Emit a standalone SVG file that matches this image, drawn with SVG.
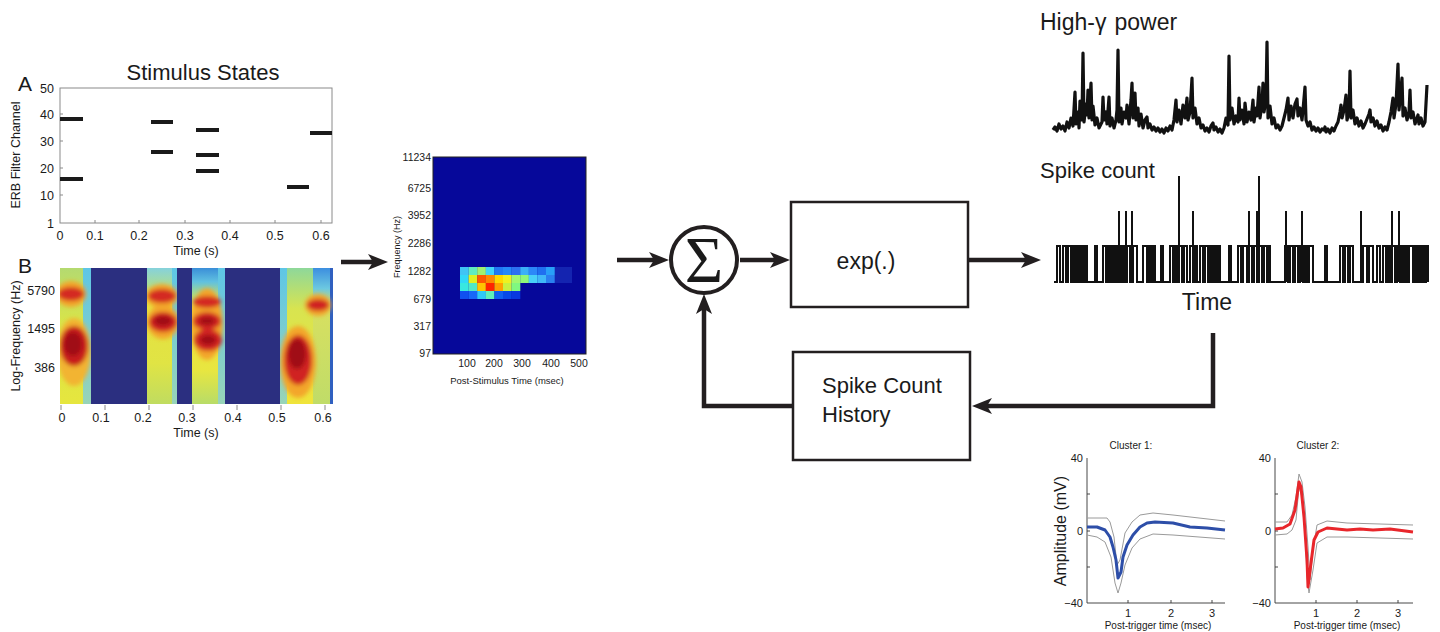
<svg xmlns="http://www.w3.org/2000/svg" width="1440" height="632" viewBox="0 0 1440 632">
<style>
text{font-family:"Liberation Sans",Arial,sans-serif;fill:#1a1a1a}
.ax{fill:none;stroke:#8a8a8a;stroke-width:1}
.axk{fill:none;stroke:#333;stroke-width:0.9}
.tk{font-size:12.5px}
.sm{font-size:10px}
.stim{stroke:#1a1a1a;stroke-width:4}
.conn{fill:none;stroke:#231f20;stroke-width:4.5}
.box{fill:#fff;stroke:#231f20;stroke-width:2.5}
.gray{fill:none;stroke:#9a9a9a;stroke-width:1}
</style>
<defs>
<marker id="ah" viewBox="0 0 20 16" refX="6" refY="8" markerWidth="20" markerHeight="16" markerUnits="userSpaceOnUse" orient="auto">
<path d="M0,0 L20,8 L0,16 L5,8 z" fill="#231f20"/>
</marker>
<filter id="bl" x="-50%" y="-50%" width="200%" height="200%"><feGaussianBlur stdDeviation="2.2"/></filter>
<clipPath id="c1"><rect x="60" y="268" width="31" height="136"/></clipPath>
<clipPath id="c2"><rect x="147" y="268" width="30" height="136"/></clipPath>
<clipPath id="c3"><rect x="192" y="268" width="33" height="136"/></clipPath>
<clipPath id="c4"><rect x="280" y="268" width="53" height="136"/></clipPath>
<linearGradient id="g1" x1="0" y1="0" x2="0" y2="1"><stop offset="0" stop-color="#b4da70"/><stop offset="0.4" stop-color="#d8e44a"/><stop offset="1" stop-color="#e6e63e"/></linearGradient>
<linearGradient id="gc" x1="0" y1="0" x2="0" y2="1"><stop offset="0" stop-color="#5ec6e6"/><stop offset="1" stop-color="#98d4b8"/></linearGradient>
<linearGradient id="g2" x1="0" y1="0" x2="0" y2="1"><stop offset="0" stop-color="#86d2dc"/><stop offset="0.12" stop-color="#a8dc9a"/><stop offset="0.22" stop-color="#e8e040"/><stop offset="0.7" stop-color="#e0e444"/><stop offset="1" stop-color="#c0dc60"/></linearGradient>
<linearGradient id="g3" x1="0" y1="0" x2="0" y2="1"><stop offset="0" stop-color="#3a8ed8"/><stop offset="0.1" stop-color="#60c0e0"/><stop offset="0.2" stop-color="#b0dc80"/><stop offset="0.3" stop-color="#f0e040"/><stop offset="0.75" stop-color="#e8e640"/><stop offset="1" stop-color="#b8dc68"/></linearGradient>
<linearGradient id="g4" x1="0" y1="0" x2="0" y2="1"><stop offset="0" stop-color="#8ed89a"/><stop offset="0.3" stop-color="#d8e450"/><stop offset="1" stop-color="#f0e43a"/></linearGradient>
<linearGradient id="g5" x1="0" y1="0" x2="0" y2="1"><stop offset="0" stop-color="#3c8ee0"/><stop offset="0.15" stop-color="#6cc8e0"/><stop offset="0.28" stop-color="#d8e060"/><stop offset="1" stop-color="#c0dc68"/></linearGradient>
</defs>
<rect width="1440" height="632" fill="#fff"/>

<g id="panelA">
<text x="203" y="80" text-anchor="middle" style="font-size:22px">Stimulus States</text>
<text x="18" y="91" style="font-size:21px">A</text>
<rect class="ax" x="60" y="88" width="272" height="135"/>
<path class="ax" d="M60,114h3M60,141h3M60,168h3M60,195h3M95,223v-3M139,223v-3M185,223v-3M230,223v-3M275,223v-3M321,223v-3"/>
<g class="tk" text-anchor="end">
<text x="54" y="93">50</text><text x="54" y="119">40</text><text x="54" y="146">30</text><text x="54" y="173">20</text><text x="54" y="200">10</text><text x="54" y="228">1</text>
</g>
<g class="tk" text-anchor="middle">
<text x="60" y="240">0</text><text x="95" y="240">0.1</text><text x="139" y="240">0.2</text><text x="185" y="240">0.3</text><text x="230" y="240">0.4</text><text x="275" y="240">0.5</text><text x="321" y="240">0.6</text>
</g>
<text x="196" y="255" text-anchor="middle" style="font-size:12.5px">Time (s)</text>
<text transform="translate(20,155) rotate(-90)" text-anchor="middle" style="font-size:12.5px">ERB Filter Channel</text>
<path class="stim" d="M60,119H83M60,179H83M151,122H173M151,152H173M196,130H219M196,155H219M196,171H219M287,187H309M310,133H332"/>
</g>

<g id="panelB">
<text x="18" y="273" style="font-size:21px">B</text>
<rect x="60" y="268" width="273" height="136" fill="#2b2f80"/>
<g clip-path="url(#c1)">
<rect x="60" y="268" width="23" height="136" fill="url(#g1)"/>
<rect x="83" y="268" width="8" height="136" fill="url(#gc)"/>
<g filter="url(#bl)">
<ellipse cx="71" cy="294" rx="15" ry="13" fill="#f3a62a"/>
<ellipse cx="71" cy="294" rx="13" ry="7" fill="#d42a20"/>
<ellipse cx="74" cy="352" rx="17" ry="34" fill="#f2b432"/>
<ellipse cx="74" cy="346" rx="14" ry="20" fill="#c81e1e"/>
<ellipse cx="73" cy="344" rx="9" ry="12" fill="#a01018"/>
</g>
</g>
<g clip-path="url(#c2)">
<rect x="147" y="268" width="25" height="136" fill="url(#g2)"/>
<rect x="172" y="268" width="5" height="136" fill="url(#gc)"/>
<g filter="url(#bl)">
<ellipse cx="162" cy="296" rx="16" ry="12" fill="#f3a62a"/>
<ellipse cx="162" cy="296" rx="14" ry="7" fill="#d42a20"/>
<ellipse cx="163" cy="322" rx="16" ry="17" fill="#f3a62a"/>
<ellipse cx="163" cy="322" rx="14" ry="10" fill="#d02420"/>
<ellipse cx="163" cy="321" rx="9" ry="5" fill="#a01018"/>
</g>
</g>
<g clip-path="url(#c3)">
<rect x="192" y="268" width="26" height="136" fill="url(#g3)"/>
<rect x="218" y="268" width="7" height="136" fill="url(#gc)"/>
<g filter="url(#bl)">
<ellipse cx="207" cy="324" rx="16" ry="36" fill="#f3a62a"/>
<ellipse cx="207" cy="302" rx="14" ry="6" fill="#d42a20"/>
<ellipse cx="207" cy="321" rx="14" ry="9" fill="#d02420"/>
<ellipse cx="208" cy="340" rx="14" ry="11" fill="#d02420"/>
<ellipse cx="207" cy="321" rx="8" ry="4" fill="#a01018"/>
<ellipse cx="208" cy="340" rx="8" ry="5" fill="#a01018"/>
</g>
</g>
<g clip-path="url(#c4)">
<rect x="280" y="268" width="7" height="136" fill="url(#gc)"/>
<rect x="287" y="268" width="26" height="136" fill="url(#g4)"/>
<rect x="313" y="268" width="17" height="136" fill="url(#g5)"/>
<rect x="330" y="268" width="3" height="136" fill="#3060c0"/>
<g filter="url(#bl)">
<ellipse cx="298" cy="362" rx="18" ry="36" fill="#f3a62a"/>
<ellipse cx="298" cy="360" rx="14" ry="25" fill="#d02420"/>
<ellipse cx="297" cy="354" rx="9" ry="15" fill="#a01018"/>
<ellipse cx="318" cy="305" rx="13" ry="11" fill="#f3a62a"/>
<ellipse cx="318" cy="305" rx="11" ry="6" fill="#d02420"/>
</g>
</g>
<path class="ax" d="M61,405v5M105,405v5M149,405v5M193,405v5M237,405v5M281,405v5M325,405v5"/>
<g class="tk" text-anchor="end">
<text x="55" y="295">5790</text><text x="55" y="333">1495</text><text x="55" y="372">386</text>
</g>
<g class="tk" text-anchor="middle">
<text x="62" y="422">0</text><text x="101" y="422">0.1</text><text x="143" y="422">0.2</text><text x="187" y="422">0.3</text><text x="233" y="422">0.4</text><text x="277" y="422">0.5</text><text x="323" y="422">0.6</text>
</g>
<text x="196" y="437" text-anchor="middle" style="font-size:12.5px">Time (s)</text>
<text transform="translate(20,336) rotate(-90)" text-anchor="middle" style="font-size:12.5px">Log-Frequency (Hz)</text>
</g>

<g id="strf">
<rect x="433" y="157" width="153" height="197" fill="#06089a" stroke="#222" stroke-width="1"/>
<g>
<rect x="554" y="267" width="18" height="16" fill="#1424b0"/>
<rect x="460" y="267" width="8.7" height="8" fill="#40c4f4"/><rect x="468.6" y="267" width="8.7" height="8" fill="#60ecc0"/><rect x="477.2" y="267" width="8.7" height="8" fill="#a0f070"/><rect x="485.8" y="267" width="8.7" height="8" fill="#40d4f8"/><rect x="494.4" y="267" width="8.7" height="8" fill="#2078f4"/><rect x="503" y="267" width="8.7" height="8" fill="#2488f8"/><rect x="511.6" y="267" width="8.7" height="8" fill="#2c70f0"/><rect x="520.2" y="267" width="8.7" height="8" fill="#3ab0f8"/><rect x="528.8" y="267" width="8.7" height="8" fill="#2c88f8"/><rect x="537.4" y="267" width="8.7" height="8" fill="#2070f0"/><rect x="546" y="267" width="8.7" height="8" fill="#28a0f8"/>
<rect x="460" y="275" width="8.7" height="8" fill="#30d8f8"/><rect x="468.6" y="275" width="8.7" height="8" fill="#e0f020"/><rect x="477.2" y="275" width="8.7" height="8" fill="#ff5800"/><rect x="485.8" y="275" width="8.7" height="8" fill="#ff8800"/><rect x="494.4" y="275" width="8.7" height="8" fill="#ffd800"/><rect x="503" y="275" width="8.7" height="8" fill="#f0f020"/><rect x="511.6" y="275" width="8.7" height="8" fill="#a0f870"/><rect x="520.2" y="275" width="8.7" height="8" fill="#90f878"/><rect x="528.8" y="275" width="8.7" height="8" fill="#48d0f8"/><rect x="537.4" y="275" width="8.7" height="8" fill="#40b8f8"/><rect x="546" y="275" width="8.7" height="8" fill="#2a80f0"/>
<rect x="460" y="283" width="8.7" height="8" fill="#38e8e0"/><rect x="468.6" y="283" width="8.7" height="8" fill="#50e8c8"/><rect x="477.2" y="283" width="8.7" height="8" fill="#ffc400"/><rect x="485.8" y="283" width="8.7" height="8" fill="#ff2400"/><rect x="494.4" y="283" width="8.7" height="8" fill="#ffa000"/><rect x="503" y="283" width="8.7" height="8" fill="#c8f040"/><rect x="511.6" y="283" width="8.7" height="8" fill="#80f880"/>
<rect x="460" y="291" width="8.7" height="8" fill="#1050f0"/><rect x="468.6" y="291" width="8.7" height="8" fill="#1868f8"/><rect x="477.2" y="291" width="8.7" height="8" fill="#30c8f8"/><rect x="485.8" y="291" width="8.7" height="8" fill="#60f0b8"/><rect x="494.4" y="291" width="8.7" height="8" fill="#1060f0"/><rect x="503" y="291" width="8.7" height="8" fill="#0848e8"/><rect x="511.6" y="291" width="8.7" height="8" fill="#0838e0"/>
</g>
<g text-anchor="end" style="font-size:10.5px">
<text x="431" y="161">11234</text><text x="431" y="192">6725</text><text x="431" y="219">3952</text><text x="431" y="247">2286</text><text x="431" y="275">1282</text><text x="431" y="303">679</text><text x="431" y="330">317</text><text x="431" y="357">97</text>
</g>
<g text-anchor="middle" style="font-size:10.5px">
<text x="467" y="367">100</text><text x="494" y="367">200</text><text x="522" y="367">300</text><text x="551" y="367">400</text><text x="579" y="367">500</text>
</g>
<text x="507" y="384" text-anchor="middle" style="font-size:9.5px">Post-Stimulus Time (msec)</text>
<text transform="translate(400,247) rotate(-90)" text-anchor="middle" style="font-size:9px">Frequency (Hz)</text>
</g>

<g id="sum">
<circle cx="704" cy="260" r="33" fill="#fff" stroke="#231f20" stroke-width="4"/>
<text x="704" y="282" text-anchor="middle" style="font-family:'Liberation Serif','Times New Roman',serif;font-size:66px">Σ</text>
</g>

<g id="exp">
<rect class="box" x="791" y="202" width="177" height="105"/>
<text x="866" y="269" text-anchor="middle" style="font-size:23px">exp(.)</text>
</g>

<g id="history">
<rect class="box" x="793" y="352" width="177" height="108"/>
<text x="822" y="393" style="font-size:22px">Spike Count</text>
<text x="822" y="422" style="font-size:22px">History</text>
</g>

<g id="hgamma">
<text x="1040" y="30" style="font-size:23px">High-<tspan>γ</tspan><tspan dx="8">power</tspan></text>
<polyline fill="none" stroke="#111" stroke-width="3.2" stroke-linejoin="round" points="1053,130 1055,127 1057,131 1059,124 1061,129 1063,126 1065,131 1067,122 1069,128 1071,118 1073,126 1075,92 1076,124 1078,112 1079,128 1080,101 1082,120 1083,53 1084,122 1086,104 1087,115 1088,90 1089,118 1091,83 1092,120 1093,106 1095,125 1097,118 1099,128 1100,126 1102,122 1103,97 1104,120 1106,112 1107,124 1109,97 1110,126 1112,118 1114,128 1116,120 1117,110 1118,50 1119,122 1121,108 1122,124 1124,112 1126,118 1127,105 1129,124 1131,100 1132,83 1133,118 1135,93 1136,120 1138,108 1139,126 1141,114 1143,128 1145,120 1147,117 1148,128 1150,124 1152,130 1154,127 1156,131 1158,128 1160,132 1162,129 1164,133 1166,128 1168,131 1170,126 1172,130 1174,120 1176,100 1177,122 1179,110 1181,124 1183,105 1185,118 1187,98 1188,120 1190,112 1192,78 1193,118 1195,108 1197,124 1199,118 1201,128 1203,125 1205,131 1207,128 1209,132 1211,126 1213,123 1214,130 1216,127 1218,132 1220,129 1222,133 1224,128 1226,118 1228,125 1229,56 1230,120 1232,108 1234,124 1236,116 1238,122 1239,98 1240,120 1242,110 1244,124 1245,103 1247,122 1249,112 1251,120 1253,100 1254,122 1256,108 1257,116 1259,87 1260,118 1262,104 1263,83 1264,112 1266,100 1267,42 1268,118 1270,106 1272,124 1274,118 1276,128 1278,125 1280,130 1282,126 1284,118 1286,110 1288,98 1289,120 1291,106 1293,118 1295,104 1297,99 1298,116 1300,108 1302,120 1303,110 1305,87 1306,120 1308,126 1310,122 1312,130 1314,127 1316,131 1318,128 1320,132 1322,129 1324,130 1325,127 1326,132 1328,129 1330,133 1332,128 1334,131 1336,126 1338,122 1340,112 1341,105 1342,118 1344,110 1346,95 1347,120 1349,112 1350,71 1351,118 1353,110 1355,124 1357,118 1359,126 1361,121 1363,128 1365,124 1367,119 1369,114 1370,110 1371,122 1373,118 1375,126 1377,121 1379,128 1381,125 1383,131 1385,127 1387,130 1389,122 1391,112 1393,98 1394,118 1396,104 1398,64 1399,110 1400,100 1402,78 1403,116 1405,108 1407,120 1409,112 1410,90 1411,118 1413,112 1415,124 1417,118 1418,115 1419,124 1421,118 1423,126 1425,122 1427,85"/>
</g>

<g id="spikes">
<text x="1040" y="178" style="font-size:22px">Spike count</text>
<path fill="none" stroke="#111" stroke-width="2" d="M1054,282H1057V246H1060V282H1063V246H1066V282H1068V246H1071V282H1073V246H1075V282H1077V246H1079V282H1081V246H1083V282H1085V246H1087V282H1095V246H1097V282H1103V246H1106V282H1108V246H1110V282H1112V246H1114V282H1116V246H1118V282H1120V246H1122V282H1124V246H1125V282H1127V246H1130V282H1133V246H1137V282H1143V246H1147V282H1149V246H1151V282H1153V246H1155V282H1161V246H1163V282H1170V246H1173V282H1175V246H1177V282H1179V246H1182V282H1184V246H1187V282H1190V246H1193V282H1195V246H1197V282H1200V246H1203V282H1205V246H1208V282H1210V246H1212V282H1214V246H1216V282H1218V246H1220V282H1229V246H1231V282H1238V246H1241V282H1243V246H1247V282H1249V246H1252V282H1254V246H1257V282H1259V246H1262V282H1264V246H1267V282H1269V246H1270V282H1285V246H1288V282H1290V246H1293V282H1295V246H1298V282H1300V246H1303V282H1305V246H1307V282H1309V246H1313V282H1325V246H1327V282H1340V246H1343V282H1345V246H1348V282H1350V246H1353V282H1363V246H1367V282H1369V246H1373V282H1377V246H1380V282H1383V246H1386V282H1388V246H1390V282H1392V246H1395V282H1397V246H1400V282H1402V246H1404V282H1406V246H1407V282H1409V246H1413V282H1415V246H1417V282H1419V246H1420V282H1422V246H1424V282H1426V246H1428V282"/>
<path fill="none" stroke="#111" stroke-width="2" d="M1119,282V211M1126,282V211M1132,282V211M1193,282V211M1249,282V211M1257,282V211M1286,282V211M1302,282V211M1361,282V211M1392,282V211M1399,282V211M1179,282V176M1259,282V176"/>
<text x="1207" y="310" text-anchor="middle" style="font-size:23px">Time</text>
</g>

<g id="cluster1">
<text x="1131" y="449" text-anchor="middle" class="sm">Cluster 1:</text>
<path class="axk" d="M1087,458V603H1225M1087,494h3M1087,531h3M1087,567h3M1128,603v-3M1171,603v-3M1212,603v-3"/>
<g text-anchor="end" style="font-size:11px"><text x="1083" y="462">40</text><text x="1083" y="535">0</text><text x="1083" y="607">−40</text></g>
<g text-anchor="middle" style="font-size:11px"><text x="1128" y="617">1</text><text x="1171" y="617">2</text><text x="1212" y="617">3</text></g>
<text x="1158" y="629" text-anchor="middle" class="sm">Post-trigger time (msec)</text>
<text transform="translate(1066,531) rotate(-90)" text-anchor="middle" style="font-size:16px">Amplitude (mV)</text>
<polyline class="gray" points="1087,518 1107,518 1110,522 1114,537 1117,565 1120,560 1125,533 1132,522 1140,515 1153,513 1173,515 1225,521"/>
<polyline class="gray" points="1087,535 1097,537 1105,542 1111,557 1115,583 1118,593 1121,583 1125,565 1132,548 1140,539 1153,534 1173,535 1225,539"/>
<polyline fill="none" stroke="#2d4ea8" stroke-width="3" stroke-linejoin="round" points="1087,527 1097,527 1105,530 1110,537 1113,547 1116,560 1118,578 1121,572 1123,557 1127,545 1133,535 1140,527 1147,523 1155,522 1173,523 1190,527 1207,528 1225,530"/>
</g>

<g id="cluster2">
<text x="1318" y="449" text-anchor="middle" class="sm">Cluster 2:</text>
<path class="axk" d="M1275,458V603H1413M1275,494h3M1275,531h3M1275,567h3M1316,603v-3M1357,603v-3M1398,603v-3"/>
<g text-anchor="end" style="font-size:11px"><text x="1271" y="462">40</text><text x="1271" y="535">0</text><text x="1271" y="607">−40</text></g>
<g text-anchor="middle" style="font-size:11px"><text x="1316" y="617">1</text><text x="1357" y="617">2</text><text x="1398" y="617">3</text></g>
<text x="1347" y="629" text-anchor="middle" class="sm">Post-trigger time (msec)</text>
<polyline class="gray" points="1275,522 1287,522 1292,515 1296,497 1299,474 1302,482 1305,507 1308,547 1310,580 1313,550 1317,525 1327,521 1347,523 1413,525"/>
<polyline class="gray" points="1275,535 1287,534 1292,530 1296,520 1299,487 1302,497 1305,530 1307,577 1309,593 1313,570 1317,543 1327,537 1347,537 1413,539"/>
<polyline fill="none" stroke="#e8262b" stroke-width="3" stroke-linejoin="round" points="1275,529 1283,528 1290,524 1295,510 1299,482 1301,487 1304,517 1307,560 1308,587 1311,563 1314,540 1318,532 1327,528 1337,529 1347,530 1360,529 1373,530 1390,529 1413,532"/>
</g>

<g id="connectors">
<line class="conn" x1="341" y1="262" x2="374" y2="262" marker-end="url(#ah)"/>
<line class="conn" x1="617" y1="260" x2="655" y2="260" marker-end="url(#ah)"/>
<line class="conn" x1="740" y1="260" x2="776" y2="260" marker-end="url(#ah)"/>
<line class="conn" x1="968" y1="260" x2="1027" y2="260" marker-end="url(#ah)"/>
<path class="conn" d="M1213,333V406H986" marker-end="url(#ah)"/>
<path class="conn" d="M793,406H704V308" marker-end="url(#ah)"/>
</g>
</svg>
